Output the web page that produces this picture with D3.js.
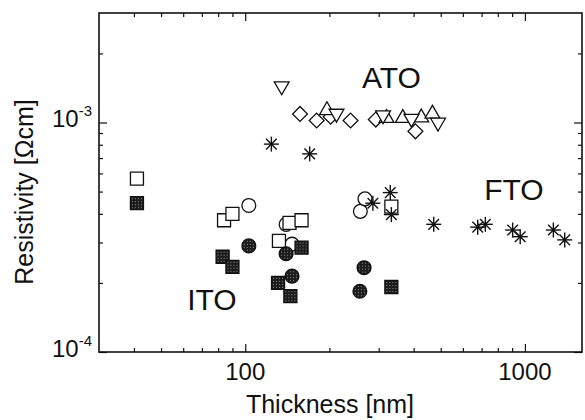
<!DOCTYPE html>
<html>
<head>
<meta charset="utf-8">
<script src="https://cdn.jsdelivr.net/npm/d3@7"></script>
<style>
  html, body { margin: 0; padding: 0; background: #fff; }
  svg { display: block; }
  text { font-family: Arial, "Liberation Sans", sans-serif; fill: #111; }
</style>
</head>
<body>
<svg id="chart" width="585" height="420"></svg>
<script>
// ---- data (thickness [nm], resistivity [Ohm cm]) ----
const itoOpenSquares   = [[41,5.7e-4],[84,3.75e-4],[90,4.0e-4],[132,3.05e-4],[144,3.65e-4],[159,3.75e-4],[333,4.3e-4]];
const itoOpenCircles   = [[103,4.35e-4],[140,3.6e-4],[147,2.95e-4],[258,4.1e-4],[268,4.65e-4]];
const itoFilledSquares = [[41,4.45e-4],[83,2.6e-4],[90,2.35e-4],[131,2.0e-4],[145,1.75e-4],[159,2.85e-4],[333,1.92e-4]];
const itoFilledCircles = [[103,2.9e-4],[140,2.68e-4],[147,2.14e-4],[257,1.84e-4],[266,2.33e-4]];
const atoDiamonds      = [[157,1.09e-3],[180,1.02e-3],[202,1.06e-3],[238,1.02e-3],[293,1.03e-3],[406,9.15e-4]];
const atoUpTriangles   = [[196,1.13e-3],[320,1.045e-3],[366,1.045e-3],[426,1.05e-3],[467,1.09e-3]];
const atoDownTriangles = [[135,1.44e-3],[212,1.094e-3],[311,1.077e-3],[393,1.04e-3],[489,1.0e-3]];
const ftoStars         = [[124,8.05e-4],[170,7.3e-4],[286,4.45e-4],[330,4.95e-4],[333,3.97e-4],[472,3.6e-4],[678,3.5e-4],[722,3.6e-4],[904,3.4e-4],[962,3.18e-4],[1264,3.4e-4],[1388,3.08e-4]];

const xDomain = [30, 1600];
const yDomain = [1e-4, 3e-3];
const xMajorTicks = [100, 1000];
const xMinorTicks = [40,50,60,70,80,90,200,300,400,500,600,700,800,900];
const yMajorTicks = [1e-4, 1e-3];
const yMinorTicks = [2e-4,3e-4,4e-4,5e-4,6e-4,7e-4,8e-4,9e-4,2e-3];
const xTickLabels = ["100", "1000"];
const yTickExponents = ["-4", "-3"];
const materialLabels = [
  {text: "ATO", x: 333, y: 1.41e-3},
  {text: "FTO", x: 914, y: 4.59e-4},
  {text: "ITO", x: 76,  y: 1.52e-4}
];

// ---- layout ----
const L = 99, R = 582, T = 13, B = 352;
const svg = d3.select("#chart");
const x = d3.scaleLog().domain(xDomain).range([L, R]);
const y = d3.scaleLog().domain(yDomain).range([B, T]);

// dither pattern for filled symbols
const defs = svg.append("defs");
const pat = defs.append("pattern").attr("id", "dither")
  .attr("width", 3).attr("height", 3).attr("patternUnits", "userSpaceOnUse");
pat.append("rect").attr("width", 3).attr("height", 3).attr("fill", "#1c1c1c");
pat.append("rect").attr("x", 1).attr("y", 1).attr("width", 1).attr("height", 1).attr("fill", "#8a8a8a");

// ---- axes (inward ticks on all four sides) ----
function axisGroup(axis, tx, ty) {
  const g = svg.append("g").attr("transform", `translate(${tx},${ty})`).call(axis);
  g.select(".domain").remove();
  g.selectAll(".tick line").attr("stroke", "#111").attr("stroke-width", 1.2);
  g.selectAll(".tick text").remove();
  return g;
}
axisGroup(d3.axisBottom(x).tickValues(xMajorTicks).tickSize(-8).tickFormat(""), 0, B);
axisGroup(d3.axisBottom(x).tickValues(xMinorTicks).tickSize(-4).tickFormat(""), 0, B);
axisGroup(d3.axisTop(x).tickValues(xMajorTicks).tickSize(-8).tickFormat(""), 0, T);
axisGroup(d3.axisTop(x).tickValues(xMinorTicks).tickSize(-4).tickFormat(""), 0, T);
axisGroup(d3.axisLeft(y).tickValues(yMajorTicks).tickSize(-8).tickFormat(""), L, 0);
axisGroup(d3.axisLeft(y).tickValues(yMinorTicks).tickSize(-4).tickFormat(""), L, 0);
axisGroup(d3.axisRight(y).tickValues(yMajorTicks).tickSize(-8).tickFormat(""), R, 0);
axisGroup(d3.axisRight(y).tickValues(yMinorTicks).tickSize(-4).tickFormat(""), R, 0);

// frame
svg.append("rect").attr("x", L).attr("y", T).attr("width", R - L).attr("height", B - T)
  .attr("fill", "none").attr("stroke", "#111").attr("stroke-width", 1.6);

// tick labels
svg.selectAll(".xlab").data(xMajorTicks).join("text")
  .attr("class", "xlab")
  .attr("x", d => x(d)).attr("y", B + 28)
  .attr("text-anchor", "middle").attr("font-size", 24)
  .text((d, i) => xTickLabels[i]);

const yl = svg.selectAll(".ylab").data(yMajorTicks).join("text")
  .attr("class", "ylab")
  .attr("x", 92).attr("y", d => y(d) + 5)
  .attr("text-anchor", "end").attr("font-size", 24);
yl.append("tspan").text("10");
yl.append("tspan").attr("dy", -11).attr("font-size", 15).text((d, i) => yTickExponents[i]);

// axis titles
svg.append("text").attr("x", 330).attr("y", 413).attr("text-anchor", "middle")
  .attr("font-size", 25).text("Thickness [nm]");
svg.append("text").attr("transform", "translate(33,192) rotate(-90)")
  .attr("text-anchor", "middle").attr("font-size", 25).text("Resistivity [\u03A9cm]");

// ---- markers ----
const plot = svg.append("g");
const sw = 1.3;
function symbolPath(type, size) {
  return d3.symbol().type(type).size(size)();
}
function drawSymbols(data, type, size, fill, rot) {
  plot.append("g").selectAll("path").data(data).join("path")
    .attr("transform", d => `translate(${x(d[0])},${y(d[1])})` + (rot ? ` rotate(${rot})` : ""))
    .attr("d", symbolPath(type, size))
    .attr("fill", fill)
    .attr("stroke", "#111").attr("stroke-width", sw);
}
// open ITO
drawSymbols(itoOpenCircles, d3.symbolCircle, 150, "#fff");
drawSymbols(itoOpenSquares, d3.symbolSquare, 169, "#fff");
// filled ITO
drawSymbols(itoFilledCircles, d3.symbolCircle, 150, "url(#dither)");
drawSymbols(itoFilledSquares, d3.symbolSquare, 169, "url(#dither)");
// ATO
drawSymbols(atoDiamonds, d3.symbolSquare, 110, "#fff", 45);
drawSymbols(atoUpTriangles, d3.symbolTriangle, 95, "#fff");
drawSymbols(atoDownTriangles, d3.symbolTriangle, 95, "#fff", 180);

// FTO asterisks (8 arms)
const starR = 7.5;
const starG = plot.append("g").selectAll("g").data(ftoStars).join("g")
  .attr("transform", d => `translate(${x(d[0])},${y(d[1])})`);
[0, 45, 90, 135].forEach(a => {
  const rad = a * Math.PI / 180;
  starG.append("line")
    .attr("x1", -starR * Math.cos(rad)).attr("y1", -starR * Math.sin(rad))
    .attr("x2",  starR * Math.cos(rad)).attr("y2",  starR * Math.sin(rad))
    .attr("stroke", "#111").attr("stroke-width", 1.4);
});
starG.append("circle").attr("r", 1.6).attr("fill", "#111");

// material labels
svg.selectAll(".mat").data(materialLabels).join("text")
  .attr("class", "mat")
  .attr("x", d => x(d.x)).attr("y", d => y(d.y))
  .attr("text-anchor", "middle").attr("font-size", 30)
  .text(d => d.text);
</script>
</body>
</html>
